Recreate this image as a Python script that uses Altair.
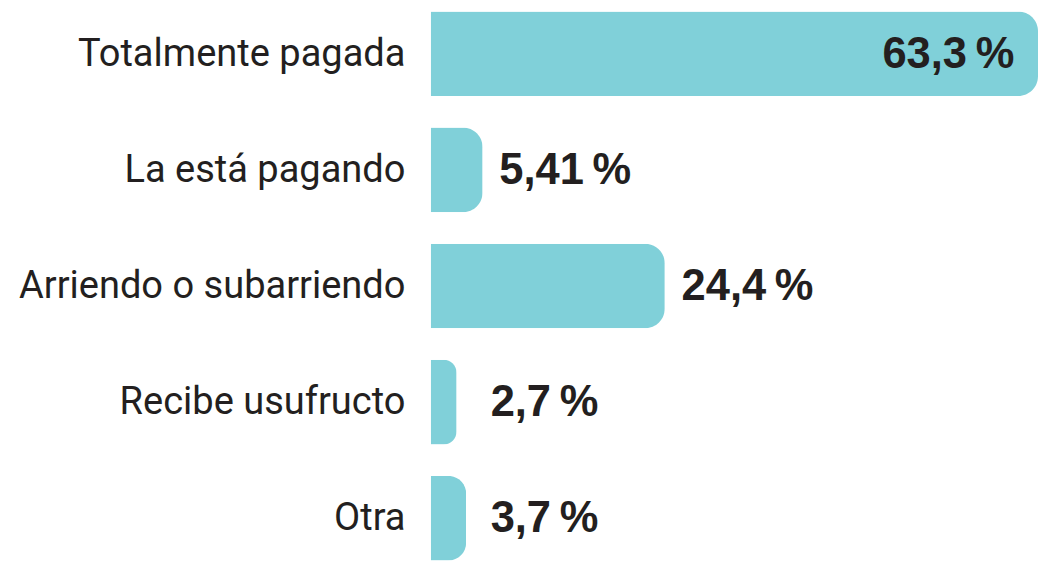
import altair as alt
import pandas as pd

categories = ["Totalmente pagada", "La está pagando", "Arriendo o subarriendo", "Recibe usufructo", "Otra"]
values = [63.3, 5.41, 24.4, 2.7, 3.7]
labels = ["63,3\u2009%", "5,41\u2009%", "24,4\u2009%", "2,7\u2009%", "3,7\u2009%"]

df = pd.DataFrame({"cat": categories, "value": values, "label": labels})

y = alt.Y("cat:N", sort=categories, title=None,
          scale=alt.Scale(paddingInner=0.271, paddingOuter=0),
          axis=alt.Axis(domain=False, ticks=False, labelPadding=26,
                        labelFont="Roboto", labelFontSize=38.5, labelColor="#231f20",
                        labelLimit=500))
xscale = alt.Scale(domain=[0, 63.3], nice=False, zero=True)
x = alt.X("value:Q", title=None, axis=None, scale=xscale)

bars = alt.Chart(df).mark_bar(color="#80d0d9", cornerRadiusEnd=20).encode(x=x, y=y)

inside = alt.Chart(df).transform_filter("datum.value > 50").mark_text(
    align="right", baseline="middle", dx=-24, dy=1, font="Liberation Sans", fontWeight="bold",
    fontSize=44, color="#231f20"
).encode(x=x, y=y, text="label:N")

outside = alt.Chart(df).transform_filter("datum.value <= 50").transform_calculate(
    lx="max(datum.value, 4.5)"
).mark_text(
    align="left", baseline="middle", dx=17, dy=1, font="Liberation Sans", fontWeight="bold",
    fontSize=44, color="#231f20"
).encode(x=alt.X("lx:Q", scale=xscale, axis=None), y=y, text="label:N")

chart = alt.layer(bars, inside, outside).properties(
    width=615, height=556,
    autosize=alt.AutoSizeParams(type="none"),
    padding={"left": 428, "top": 0, "right": 0, "bottom": 0},
).configure_view(stroke=None)

chart.save("out.html", embed_options={"renderer": "svg", "actions": False})
